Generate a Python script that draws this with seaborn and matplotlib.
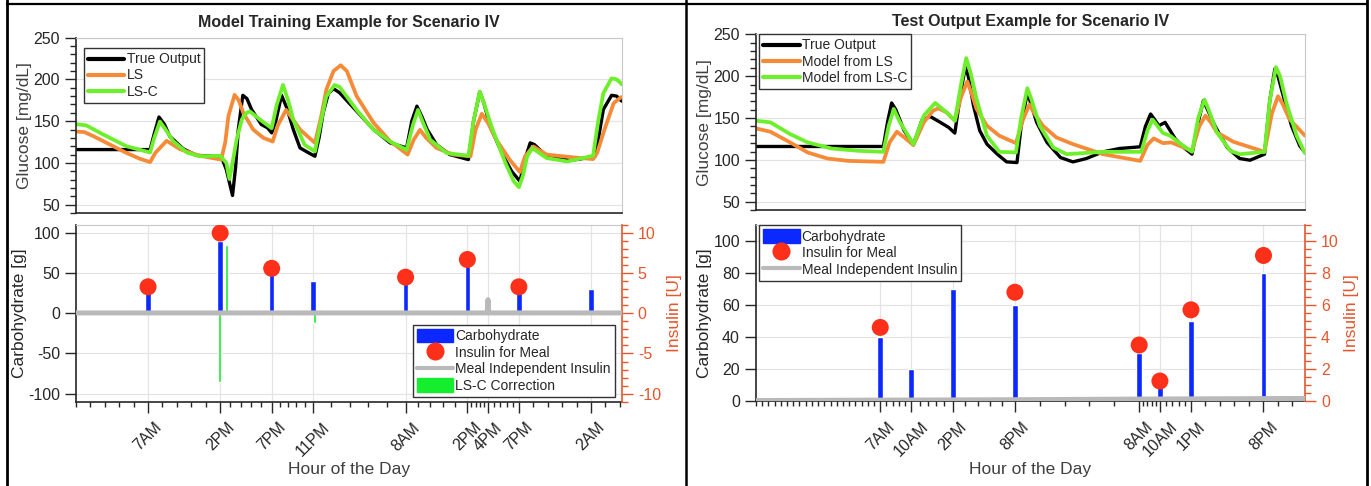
import matplotlib
matplotlib.use('Agg')
import matplotlib.pyplot as plt
from matplotlib.ticker import MultipleLocator, FixedLocator
from matplotlib.lines import Line2D
from matplotlib.patches import Patch
import seaborn as sns

# ---------------- data (hours counted from midnight of day 1) ----------------
# training example
train_true_hr = [0, 7.2, 7.6, 8.06, 8.6, 9.1, 10.4, 11.7, 14.1, 14.6, 15.2, 15.5, 15.76, 16.2, 16.6, 17.05,
                 18.0, 18.6, 19.0, 19.4, 19.96, 20.5, 21.1, 21.75, 22.6, 23.2, 23.6, 24.0, 24.5, 25.0, 25.6,
                 27.25, 28.9, 30.5, 32.1, 32.6, 33.1, 33.6, 34.1, 35.0, 36.3, 38.1, 38.6, 39.2, 39.6, 40.2,
                 41.5, 42.3, 43.1, 43.6, 44.1, 44.5, 45.7, 48.0, 49.6, 50.4, 50.8, 51.2, 52.0, 52.5, 52.8, 53.0]
train_true_glu = [116, 116, 135, 155, 146, 132, 117, 109, 108, 92, 61, 95, 140, 181, 177, 164,
                  146, 142, 136, 150, 181, 165, 140, 118, 112, 108, 130, 160, 183, 189, 184,
                  162, 140, 124, 118, 150, 168, 155, 140, 122, 110, 104, 150, 185, 172, 144,
                  108, 90, 78, 105, 124, 122, 108, 103, 106, 108, 135, 164, 181, 180, 176, 174]

train_ls_hr = [0, 0.8, 1.7, 3.3, 4.9, 6.2, 7.2, 7.7, 8.8, 10.1, 12.0, 14.1, 14.5, 14.8, 15.4, 15.8, 16.25,
               17.2, 18.2, 19.1, 19.6, 20.4, 20.9, 21.75, 23.2, 23.8, 24.3, 25.0, 25.7, 26.3, 27.25, 28.9,
               30.5, 32.2, 32.8, 33.4, 34.0, 35.0, 36.6, 38.3, 38.8, 39.4, 40.0, 40.8, 42.1, 43.1, 43.6,
               44.4, 45.7, 48.0, 50.2, 50.6, 51.3, 52.2, 52.9, 53.0]
train_ls_glu = [137.6, 137, 132, 122, 112, 105, 101, 112, 126.5, 116.5, 108.6, 104, 125, 156, 181.5, 175, 160,
                140, 130, 125.7, 145, 163.5, 155, 140, 124, 155, 187.5, 210, 217, 210, 180, 148,
                126, 110, 128, 139.6, 130, 118, 110, 108, 140, 158.8, 148, 128, 104, 89, 108,
                119.7, 110, 107, 104.6, 112, 139.6, 171.5, 178.7, 178.5]

train_lsc_hr = [0, 1.0, 2.65, 4.9, 7.2, 7.6, 8.15, 8.7, 9.45, 10.75, 12.0, 14.0, 14.6, 14.9, 15.2, 15.6,
                16.1, 16.6, 16.9, 17.9, 19.0, 19.5, 20.1, 20.6, 21.1, 22.2, 23.2, 23.8, 24.3, 25.1, 25.6,
                27.25, 28.9, 30.5, 32.1, 32.7, 33.2, 33.7, 34.4, 36.0, 38.1, 38.6, 39.2, 39.6, 40.4, 41.7,
                42.5, 43.0, 43.4, 43.8, 44.3, 45.7, 47.7, 50.2, 50.7, 51.2, 52.0, 52.5, 52.9, 53.0]
train_lsc_glu = [146.4, 145, 134, 120, 112.5, 130, 149.6, 140, 126, 112.5, 108, 108.6, 100, 80.7, 100, 128,
                 152, 160.4, 161.6, 151.6, 141.6, 170, 193.4, 175, 151.6, 121.7, 113.7, 150, 179.5, 193.4, 191,
                 163.5, 139.6, 125.7, 115.7, 145, 163.5, 148, 127.7, 111.8, 108.6, 150, 185.5, 172, 141.6, 99.8,
                 78, 71, 85, 107.8, 117.7, 105.8, 101.8, 108.6, 150, 183.5, 201.4, 200, 195.4, 194]

train_carb_hr = [7, 14, 19, 23, 32, 38, 43, 50]
train_carb_g = [30, 90, 50, 40, 40, 60, 30, 30]
train_ins_hr = [7, 14, 19, 32, 38, 43]
train_ins_u = [3.3, 10.0, 5.6, 4.5, 6.7, 3.3]
train_basal_hr = [0, 39.93, 40.0, 40.07, 53]
train_basal_u = [0.05, 0.05, 1.7, 0.05, 0.05]
train_corr_hr = [13.9, 14.6, 23.2]
train_corr_g = [-85, 85, -12]

train_tick_hr = [7, 14, 19, 23, 32, 38, 40, 43, 50]
train_tick_lab = ['7AM', '2PM', '7PM', '11PM', '8AM', '2PM', '4PM', '7PM', '2AM']

# test example
test_true_hr = [-5, 7.3, 7.7, 8.1, 8.5, 9.3, 10.2, 10.6, 11.0, 11.8, 12.8, 13.6, 14.2, 14.7, 15.2, 15.5,
                16.0, 16.6, 17.3, 18.3, 19.2, 20.2, 20.6, 21.2, 21.6, 22.1, 23.1, 24.4, 25.6, 26.9, 28.5,
                30.1, 32.1, 32.6, 33.1, 33.5, 33.9, 34.5, 35.5, 36.3, 37.1, 37.6, 38.2, 38.6, 39.3, 40.5,
                41.7, 42.7, 44.1, 44.6, 45.1, 45.4, 45.9, 46.7, 47.5, 48.0]
test_true_glu = [116, 116, 145, 168, 160, 135, 118.8, 132, 146.8, 152, 144.8, 138.8, 132, 175, 210.8, 200,
                 164.8, 135, 118.8, 106.8, 97.6, 96.8, 140, 180.8, 165, 144.8, 120.8, 102.8, 97.6, 101.6, 109.6,
                 113.6, 115.6, 140, 154.8, 148, 140.8, 144.8, 124.8, 114.8, 106.8, 140, 170.8, 160, 140.8, 114.8,
                 101.6, 99.6, 106.8, 170, 208.8, 200, 176.8, 140.8, 116.8, 109]

test_ls_hr = [-5, -3.6, -1.7, 0.0, 1.9, 3.9, 7.3, 7.9, 8.6, 9.3, 10.2, 11.2, 12.1, 12.6, 13.4, 14.2, 14.8,
              15.4, 15.8, 16.3, 17.3, 18.5, 20.1, 20.8, 21.4, 21.9, 22.7, 24.0, 25.6, 28.5, 32.1, 32.8,
              33.4, 34.3, 35.1, 36.3, 37.1, 37.8, 38.4, 38.9, 39.5, 41.1, 44.1, 44.8, 45.4, 45.8, 46.5, 48.0]
test_ls_glu = [137.6, 133.6, 120.8, 108.8, 101.6, 98.8, 97.6, 120.8, 133.6, 127, 117.6, 144.8, 158.8, 161.6,
               156.8, 146.8, 175, 193.6, 180, 160.8, 140.8, 128.8, 120, 148.8, 166, 155, 140.8, 126.8, 118.8,
               106.8, 98.8, 118, 125.6, 120, 120.8, 114.8, 110.8, 140, 152.8, 145, 132.8, 121.6, 109.6, 155,
               176, 168, 148.8, 129]

test_lsc_hr = [-5, -3.6, -1.7, 0, 2.3, 4.9, 7.3, 7.8, 8.3, 8.9, 10.2, 11.2, 12.3, 13.4, 14.2, 14.8, 15.3,
               15.7, 16.3, 17.3, 18.5, 20.1, 20.6, 21.2, 21.6, 22.4, 23.7, 25.0, 28.5, 32.2, 32.8, 33.3,
               34.3, 35.0, 35.9, 37.1, 37.7, 38.3, 38.7, 39.5, 40.8, 41.7, 44.1, 44.6, 45.2, 45.6, 46.2,
               47.2, 48.0]
test_lsc_glu = [146.8, 144.8, 130.8, 120.8, 113.6, 110.8, 109.6, 140, 160.8, 145, 118.8, 152.8, 168, 156.8,
                146.8, 190, 221.6, 205, 172.8, 128.8, 109.6, 108.8, 150, 185.6, 172, 140.8, 114.8, 106.8,
                109.6, 109.6, 135, 148, 132, 128.8, 120, 109.6, 150, 172, 160, 132.8, 110.8, 106.8, 109.6,
                170, 210.8, 200, 168.8, 128.8, 108]

test_carb_hr = [7, 10, 14, 20, 32, 34, 37, 44]
test_carb_g = [40, 20, 70, 60, 30, 10, 50, 80]
test_ins_hr = [7, 14, 20, 32, 34, 37, 44]
test_ins_u = [4.6, 8.0, 6.8, 3.5, 1.25, 5.7, 9.1]
test_basal_hr = [-5, 20, 32, 48]
test_basal_u = [0.03, 0.08, 0.12, 0.16]

test_tick_hr = [7, 10, 14, 20, 32, 34, 37, 44]
test_tick_lab = ['7AM', '10AM', '2PM', '8PM', '8AM', '10AM', '1PM', '8PM']

# ---------------- styling ----------------
C_TRUE = 'black'
C_LS = '#f58a37'
C_LSC = '#6eef2b'
C_CARB = '#0a28ff'
C_INS = '#ff3019'
C_BASAL = '#b9b9b9'
C_CORR = '#14ee2e'
C_RIGHT = '#e4572e'
C_TXT = '#262626'
C_LAB = '#404040'
C_GRID = '#e4e4e4'

sns.set_style('white')
plt.rcParams['font.family'] = ['Liberation Sans', 'DejaVu Sans']
plt.rcParams['axes.unicode_minus'] = False
LEG_FONT = {'family': ['Liberation Sans Narrow', 'Liberation Sans'], 'size': 10}


def minor_positions(major, lo, hi, n=5):
    out = []
    for a, b in zip(major[:-1], major[1:]):
        step = (b - a) / n
        out += [a + k * step for k in range(1, n)]
    step = (major[1] - major[0]) / n
    t = major[0] - step
    while t >= lo - 1e-6:
        out.append(t)
        t -= step
    step = (major[-1] - major[-2]) / n
    t = major[-1] + step
    while t <= hi + 1e-6:
        out.append(t)
        t += step
    return out


def style_glucose(ax, xlim, title, title_pad):
    ax.set_xlim(*xlim)
    ax.set_ylim(40, 250)
    ax.set_yticks([50, 100, 150, 200, 250])
    ax.yaxis.set_minor_locator(MultipleLocator(10))
    ax.tick_params(axis='x', which='both', bottom=False, labelbottom=False)
    ax.tick_params(axis='y', which='major', left=True, direction='out', length=8, width=1,
                   labelsize=11.5, colors=C_TXT)
    ax.tick_params(axis='y', which='minor', left=True, direction='out', length=4, width=1, color=C_TXT)
    ax.grid(axis='y', color=C_GRID, lw=0.9)
    ax.set_axisbelow(True)
    for s in ['top', 'right']:
        ax.spines[s].set_color('#c8c8c8')
    for s in ['left', 'bottom']:
        ax.spines[s].set_color(C_TXT)
        ax.spines[s].set_linewidth(1.2)
    ax.set_xlabel('')
    ax.set_ylabel('Glucose [mg/dL]', fontsize=12.5, color=C_LAB, labelpad=1)
    ax.set_title(title, fontsize=11.5, fontweight='bold', pad=title_pad)


def plot_glucose(ax, series, labels, xlim, title, leg_anchor, title_pad=5):
    colors = [C_TRUE, C_LS, C_LSC]
    widths = [2.4, 2.7, 2.7]
    for (hr, glu), c, w in zip(series, colors, widths):
        sns.lineplot(x=hr, y=glu, ax=ax, color=c, linewidth=w, sort=False,
                     solid_joinstyle='round', solid_capstyle='round')
    style_glucose(ax, xlim, title, title_pad)
    handles = [Line2D([], [], color=c, lw=3) for c in colors]
    ax.legend(handles, labels, loc='upper left', bbox_to_anchor=leg_anchor, borderaxespad=0,
              prop=LEG_FONT, frameon=True, fancybox=False, edgecolor='#333333', framealpha=1,
              handlelength=2.6, handletextpad=0.15, labelspacing=0.15, borderpad=0.3)


def plot_meals(ax, xlim, ylim, yticks, ins_lim, ins_ticks, ins_minor, carb, ins, basal, ticks,
               corr=None, leg_loc='upper left', leg_anchor=(0, 1)):
    ax.bar(carb[0], carb[1], width=0.55, color=C_CARB, zorder=2)
    if corr is not None:
        ax.bar(corr[0], corr[1], width=0.3, color=C_CORR, zorder=2)
    ax.set_xlim(*xlim)
    ax.set_ylim(*ylim)
    ax.set_yticks(yticks)
    ax.set_xticks(ticks[0])
    ax.set_xticklabels(ticks[1], rotation=45, ha='center', fontsize=11.5, color=C_TXT)
    ax.xaxis.set_minor_locator(FixedLocator(minor_positions(ticks[0], xlim[0], xlim[1])))
    ax.tick_params(axis='x', which='major', bottom=True, direction='out', length=8, width=1,
                   pad=5, color=C_TXT)
    ax.tick_params(axis='x', which='minor', bottom=True, direction='out', length=3.6, width=1, color=C_TXT)
    ax.tick_params(axis='y', which='major', left=True, direction='out', length=8, width=1,
                   labelsize=11.5, colors=C_TXT)
    ax.grid(True, which='major', color=C_GRID, lw=0.9)
    ax.set_axisbelow(True)
    ax.spines['top'].set_color('#c8c8c8')
    ax.spines['right'].set_visible(False)
    for s in ['left', 'bottom']:
        ax.spines[s].set_color(C_TXT)
        ax.spines[s].set_linewidth(1.2)
    ax.set_ylabel('Carbohydrate [g]', fontsize=12.5, color=C_TXT, labelpad=1)
    ax.set_xlabel('Hour of the Day', fontsize=12.5, color=C_LAB, labelpad=2)

    ax2 = ax.twinx()
    sns.lineplot(x=basal[0], y=basal[1], ax=ax2, color=C_BASAL, linewidth=3.6, sort=False, zorder=3)
    sns.scatterplot(x=ins[0], y=ins[1], ax=ax2, s=150, color=C_INS, edgecolor='none', zorder=5,
                    legend=False)
    ax2.set_xlim(*xlim)
    ax2.set_ylim(*ins_lim)
    ax2.set_yticks(ins_ticks)
    ax2.yaxis.set_minor_locator(MultipleLocator(ins_minor))
    ax2.tick_params(axis='y', which='major', right=True, direction='out', length=8, width=1,
                    labelsize=11.5, colors=C_RIGHT)
    ax2.tick_params(axis='y', which='minor', right=True, direction='out', length=4, width=1,
                    color=C_RIGHT)
    for s in ['left', 'top', 'bottom']:
        ax2.spines[s].set_visible(False)
    ax2.spines['right'].set_color(C_RIGHT)
    ax2.spines['right'].set_linewidth(1.2)
    ax2.set_ylabel('Insulin [U]', fontsize=12.5, color=C_RIGHT, labelpad=4)

    handles = [Patch(color=C_CARB),
               Line2D([], [], ls='', marker='o', ms=12, color=C_INS),
               Line2D([], [], color=C_BASAL, lw=3)]
    labels = ['Carbohydrate', 'Insulin for Meal', 'Meal Independent Insulin']
    if corr is not None:
        handles.append(Patch(color=C_CORR))
        labels.append('LS-C Correction')
    leg = ax2.legend(handles, labels, loc=leg_loc, bbox_to_anchor=leg_anchor, borderaxespad=0,
                     prop=LEG_FONT, frameon=True, fancybox=False, edgecolor='#333333', framealpha=1,
                     handlelength=2.6, handleheight=1.1, handletextpad=0.15, labelspacing=0.15,
                     borderpad=0.3)
    leg.set_zorder(10)
    return ax2


fig = plt.figure(figsize=(13.71, 4.86), dpi=100)

# left panel: training
ax_tl = fig.add_axes([0.0554, 0.5617, 0.3982, 0.3607])
ax_bl = fig.add_axes([0.0554, 0.1735, 0.3982, 0.3636])
plot_glucose(ax_tl, [(train_true_hr, train_true_glu), (train_ls_hr, train_ls_glu),
                     (train_lsc_hr, train_lsc_glu)],
             ['True Output', 'LS', 'LS-C'], (0, 53), 'Model Training Example for Scenario IV',
             (0.015, 0.94), title_pad=8)
plot_meals(ax_bl, (0, 53), (-110, 110), [-100, -50, 0, 50, 100], (-11, 11), [-10, -5, 0, 5, 10], 1,
           (train_carb_hr, train_carb_g), (train_ins_hr, train_ins_u), (train_basal_hr, train_basal_u),
           (train_tick_hr, train_tick_lab), corr=(train_corr_hr, train_corr_g),
           leg_loc='lower right', leg_anchor=(0.987, 0.027))

# right panel: test
ax_tr = fig.add_axes([0.5514, 0.5677, 0.4004, 0.3617])
ax_br = fig.add_axes([0.5514, 0.1749, 0.4004, 0.3620])
plot_glucose(ax_tr, [(test_true_hr, test_true_glu), (test_ls_hr, test_ls_glu),
                     (test_lsc_hr, test_lsc_glu)],
             ['True Output', 'Model from LS', 'Model from LS-C'], (-5, 48),
             'Test Output Example for Scenario IV', (0.006, 1.0), title_pad=6)
plot_meals(ax_br, (-5, 48), (0, 110), [0, 20, 40, 60, 80, 100], (0, 11), [0, 2, 4, 6, 8, 10], 0.5,
           (test_carb_hr, test_carb_g), (test_ins_hr, test_ins_u), (test_basal_hr, test_basal_u),
           (test_tick_hr, test_tick_lab), leg_loc='upper left', leg_anchor=(0.006, 1.0))

# panel frames
W, H = 1371, 486
for xs, ys, lw in [([7, 7], [0, 486], 2.0), ([7, 1367], [4.5, 4.5], 1.6),
                   ([686.5, 686.5], [0, 486], 1.8), ([1367, 1367], [0, 486], 2.0)]:
    fig.add_artist(Line2D([x / W for x in xs], [1 - y / H for y in ys], transform=fig.transFigure,
                          color='black', lw=lw))

fig.savefig('out.png', dpi=100)
